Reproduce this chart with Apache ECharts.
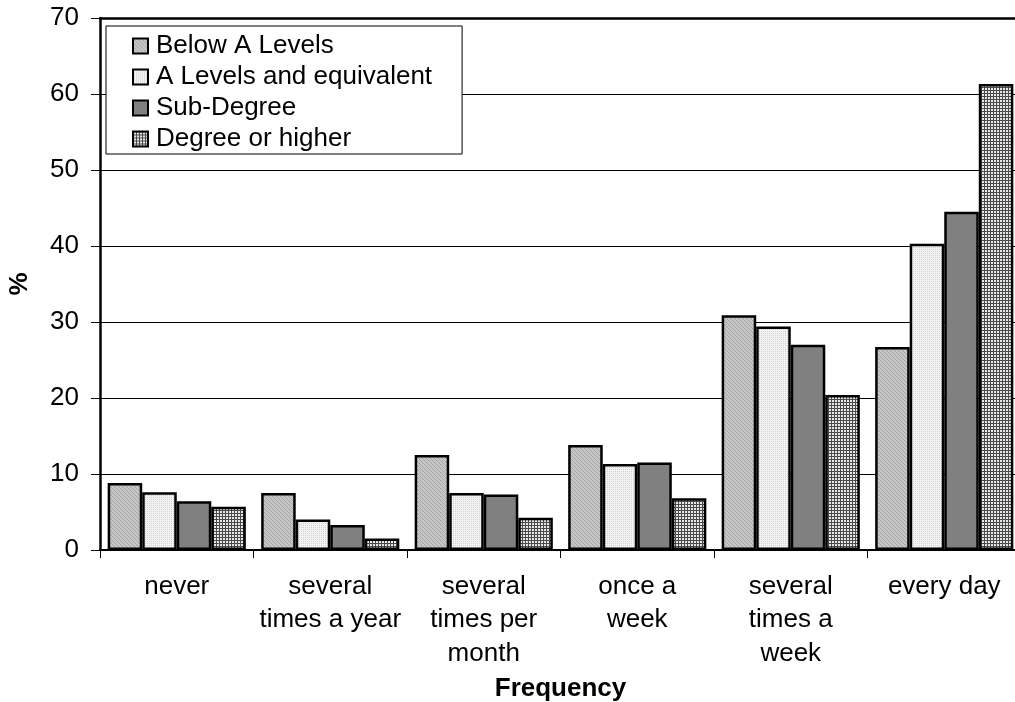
<!DOCTYPE html>
<html><head><meta charset="utf-8">
<script src="https://cdn.jsdelivr.net/npm/echarts@6/dist/echarts.min.js"></script>
<style>html,body{margin:0;padding:0;background:#fff}#c{width:1015px;height:702px}</style>
</head><body><div id="c"></div>
<script>
const categories = ["never", "several\ntimes a year", "several\ntimes per\nmonth", "once a\nweek", "several\ntimes a\nweek", "every day"];
const seriesNames = ["Below A Levels", "A Levels and equivalent", "Sub-Degree", "Degree or higher"];
const belowA = [8.8, 7.5, 12.5, 13.8, 30.9, 26.7];
const aLevels = [7.6, 4.0, 7.5, 11.3, 29.4, 40.3];
const subDegree = [6.4, 3.3, 7.3, 11.5, 27.0, 44.5];
const degree = [5.7, 1.5, 4.25, 6.8, 20.4, 61.3];
const yTicks = [0, 10, 20, 30, 40, 50, 60, 70];

function pat(size, draw) {
  const c = document.createElement('canvas');
  c.width = size; c.height = size;
  const g = c.getContext('2d');
  draw(g);
  return { image: c, repeat: 'repeat' };
}
const pBelow = pat(4, g => {
  g.fillStyle = '#c6c6c6'; g.fillRect(0, 0, 4, 4);
  g.fillStyle = '#a4a4a4';
  for (let i = 0; i < 4; i++) g.fillRect(i, i, 1, 1);
});
const pA = pat(2, g => {
  g.fillStyle = '#f4f4f4'; g.fillRect(0, 0, 2, 2);
  g.fillStyle = '#cfcfcf'; g.fillRect(1, 1, 1, 1);
});
const pDeg = pat(3, g => {
  g.fillStyle = '#4a4a4a'; g.fillRect(0, 0, 3, 3);
  g.fillStyle = '#e8e8e8'; g.fillRect(1, 1, 2, 2);
});
const fills = [pBelow, pA, '#808080', pDeg];
const data = [belowA, aLevels, subDegree, degree];

const font = 'Liberation Sans, Arial, sans-serif';
const chart = echarts.init(document.getElementById('c'), null, { renderer: 'canvas' });
chart.setOption({
  animation: false,
  textStyle: { fontFamily: font },
  grid: { left: 100, top: 18, height: 532, width: 921, containLabel: false, outerBoundsMode: 'none' },
  legend: {
    orient: 'vertical', left: 106, top: 26,
    backgroundColor: '#fff', borderColor: '#000', borderWidth: 1,
    padding: [7, 30, 2, 26], itemGap: 5,
    itemWidth: 15, itemHeight: 15, icon: 'rect',
    textStyle: { fontSize: 26, color: '#000', fontFamily: font, padding: [0, 0, 0, 3] },
    data: seriesNames
  },
  xAxis: [{
    type: 'category', data: categories,
    axisLine: { lineStyle: { color: '#000', width: 2 } },
    axisTick: { show: true, length: 8, lineStyle: { color: '#000', width: 1 } },
    axisLabel: { fontSize: 26, color: '#000', lineHeight: 33.5, margin: 20, interval: 0 },
    name: 'Frequency', nameLocation: 'middle', nameGap: 125,
    nameTextStyle: { fontSize: 26, fontWeight: 'bold', color: '#000' }
  }, {
    type: 'category', data: categories, position: 'top',
    axisLine: { lineStyle: { color: '#000', width: 2.5 } },
    axisTick: { show: false }, axisLabel: { show: false }
  }],
  yAxis: {
    type: 'value', min: 0, max: 70, interval: 10,
    axisLine: { show: true, lineStyle: { color: '#000', width: 2.5 } },
    axisTick: { show: true, length: 9, lineStyle: { color: '#000' } },
    axisLabel: { fontSize: 26, color: '#000', margin: 21,
      formatter: v => yTicks.includes(v) ? String(v) : '' },
    splitLine: { lineStyle: { color: '#000', width: 1 } },
    name: '%', nameLocation: 'middle', nameGap: 67,
    nameTextStyle: { fontSize: 26, fontWeight: 'bold', color: '#000' }
  },
  series: seriesNames.map((n, i) => ({
    name: n, type: 'bar', data: data[i],
    barGap: '0%', barCategoryGap: '10%',
    itemStyle: { color: fills[i], borderColor: '#000', borderWidth: 2.5 }
  }))
});
</script></body></html>
